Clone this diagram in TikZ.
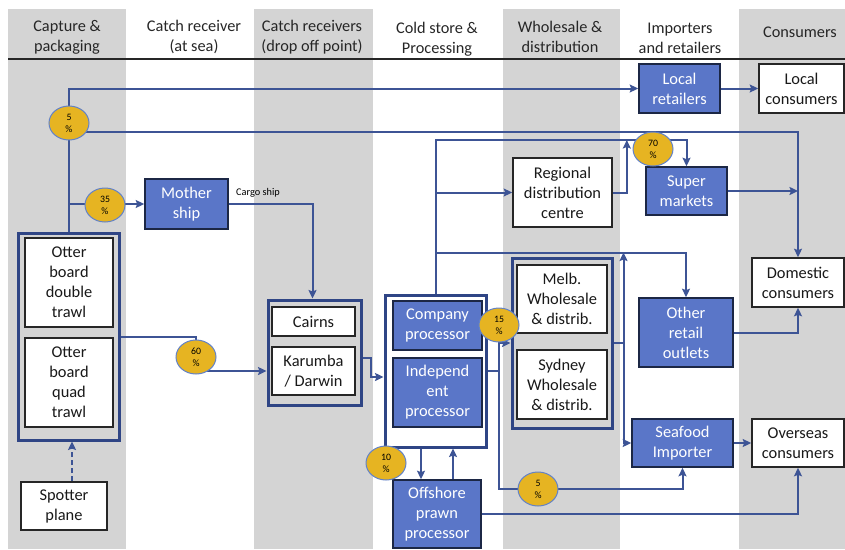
\documentclass[tikz,border=0pt]{standalone}
\usepackage{fontspec}
\setmainfont{Carlito}
\usetikzlibrary{arrows.meta,shapes.geometric}
\definecolor{band}{HTML}{D4D4D4}
\definecolor{boxblue}{HTML}{5A76C8}
\definecolor{boxedge}{HTML}{1C2745}
\definecolor{conncol}{HTML}{3D5495}
\definecolor{grpcol}{HTML}{2F4585}
\definecolor{gold}{HTML}{E6B422}
\definecolor{goldedge}{HTML}{6282C8}
\pgfdeclarelayer{bands}\pgfdeclarelayer{lines}
\pgfsetlayers{bands,lines,main}
\begin{document}
\begin{tikzpicture}[x=1pt,y=-1pt,
  txt/.style={font=\fontsize{16.4}{20}\selectfont, align=center, inner sep=0pt},
  bbox/.style={txt, draw=boxedge, line width=1.6pt, fill=boxblue, text=white},
  wbox/.style={txt, draw=black!85, line width=1.6pt, fill=white, text=black!90},
  grp/.style={draw=grpcol, line width=3pt, inner sep=0pt},
  pct/.style={ellipse, draw=goldedge, line width=1pt, fill=gold, minimum width=40pt, minimum height=34pt, inner sep=0pt, align=center, font=\fontsize{9.8}{12}\selectfont},
  conn/.style={draw=conncol, line width=2pt},
  arr/.style={conn, -{Stealth[length=8.5pt,width=8pt,inset=1.5pt]}},
  head/.style={font=\fontsize{16.3}{20}\selectfont, align=center, text=black!85, inner sep=0pt},
  wh/.style n args={2}{minimum width=#1pt, minimum height=#2pt}
]
\useasboundingbox (0,0) rectangle (845,549);
\begin{pgfonlayer}{bands}
\fill[band] (8,9) rectangle (126,549);
\fill[band] (254,9) rectangle (373,549);
\fill[band] (503,9) rectangle (620,549);
\fill[band] (739,9) rectangle (845,549);
\draw[line width=1.2pt, black!85] (8,59) -- (845,59);
\end{pgfonlayer}

% headers
\node[head] (h1) at (67,37) {Capture \&\\packaging};
\node[head] (h2) at (194,37) {Catch receiver\\(at sea)};
\node[head] (h3) at (312,37) {Catch receivers\\(drop off point)};
\node[head] (h4) at (437,39) {Cold store \&\\Processing};
\node[head] (h5) at (560,37) {Wholesale \&\\distribution};
\node[head] (h6) at (680,38) {Importers\\and retailers};
\node[head] (h7) at (800,32) {Consumers};

% group boxes
\node[grp, wh={101}{207}] (ottergrp) at (68.5,336.5) {};
\node[grp, wh={93}{105}] (portgrp) at (314.5,352.5) {};
\node[grp, wh={101}{152}] (procgrp) at (435.5,371) {};
\node[grp, wh={100}{170}] (wholegrp) at (562,343) {};

% boxes
\node[bbox, wh={81}{49}] (locret) at (679.5,88.5) {Local\\retailers};
\node[wbox, wh={85}{49}] (loccons) at (801.5,88.5) {Local\\consumers};
\node[bbox, wh={83}{50}] (mother) at (186.5,204) {Mother\\ship};
\node[wbox, wh={88}{89}] (otter1) at (69,282.5) {Otter\\board\\double\\trawl};
\node[wbox, wh={88}{89}] (otter2) at (69,382.5) {Otter\\board\\quad\\trawl};
\node[wbox, wh={86}{48}] (spotter) at (64,506) {Spotter\\plane};
\node[wbox, wh={83}{29}] (cairns) at (313.5,321.5) {Cairns};
\node[wbox, wh={83}{48}] (karumba) at (313.5,371) {Karumba\\/ Darwin};
\node[bbox, wh={89}{49}] (company) at (437.5,325.5) {Company\\processor};
\node[bbox, wh={89}{69}] (indep) at (437.5,392.5) {Independ\\ent\\processor};
\node[bbox, wh={88}{68}] (offshore) at (437,514) {Offshore\\prawn\\processor};
\node[wbox, wh={99}{69}] (rdc) at (562.5,192.5) {Regional\\distribution\\centre};
\node[bbox, wh={81}{48}] (super) at (686.5,191) {Super\\markets};
\node[wbox, wh={90}{68}] (melb) at (562,299) {Melb.\\Wholesale\\\& distrib.};
\node[wbox, wh={90}{69}] (sydney) at (562,384.5) {Sydney\\Wholesale\\\& distrib.};
\node[bbox, wh={94}{69}] (other) at (686,332.5) {Other\\retail\\outlets};
\node[bbox, wh={101}{48}] (seafood) at (682.5,443) {Seafood\\Importer};
\node[wbox, wh={92}{49}] (domestic) at (798,282.5) {Domestic\\consumers};
\node[wbox, wh={92}{48}] (overseas) at (798,443) {Overseas\\consumers};

% percentages
\node[pct] (e5a) at (69,123) {5\\\%};
\node[pct] (e35) at (105,205) {35\\\%};
\node[pct] (e60) at (196,357) {60\\\%};
\node[pct] (e70) at (653,149) {70\\\%};
\node[pct] (e15) at (499,325) {15\\\%};
\node[pct] (e10) at (386,463) {10\\\%};
\node[pct] (e5b) at (538,489) {5\\\%};

\node[font=\fontsize{10.3}{12}\selectfont, anchor=west, inner sep=0pt] (cargo) at (236,193) {Cargo ship};

\coordinate (ytop) at ([yshift=9pt]e70.center);

\begin{pgfonlayer}{lines}
\draw[arr] (ottergrp.north) -- (ottergrp.north |- locret.west) -- (locret.west);
\draw[arr] ([yshift=-9pt]e5a.center) -| (domestic.north);
\draw[arr] (mother.west -| ottergrp.north) -- (mother.west);
\draw[arr] (mother.east) -| ([xshift=-2pt]portgrp.north);
\draw[conn] (ottergrp.east) -| (e60.center);
\draw[arr] (e60.center |- karumba.west) -- (portgrp.west |- karumba.west);
\draw[arr] ([yshift=-5.5pt]portgrp.east) -| ([xshift=-13pt,yshift=-6pt]procgrp.west) -- ([yshift=-6pt]procgrp.west);
\draw[arr] ([xshift=-14.5pt]procgrp.south) -- ([xshift=-14.5pt]procgrp.south |- offshore.north);
\draw[arr] ([xshift=16pt]offshore.north) -- ([xshift=16pt]offshore.north |- procgrp.south);
\draw[arr] (offshore.east) -| (overseas.south);
\draw[arr] (procgrp.north) |- (ytop -| super.north) -- (super.north);
\draw[arr] (procgrp.north |- rdc.west) -- (rdc.west);
\draw[arr] (rdc.east) -| ([xshift=14pt]rdc.east |- ytop);
\draw[arr] ([yshift=4pt]wholegrp.north -| procgrp.north) -| (other.north);
\draw[arr] (wholegrp.east) -| ([xshift=10pt,yshift=4pt]wholegrp.north east);
\draw[arr] (wholegrp.east) -| ([xshift=10pt]wholegrp.east |- seafood.west) -- (seafood.west);
\draw[arr] (super.east) -- (super.east -| domestic.north);
\draw[arr] (other.east) -| (domestic.south);
\draw[arr] (seafood.east) -- (overseas.west);
\draw[arr] (locret.east) -- (loccons.west);
\draw[conn] (procgrp.east) -- (procgrp.east -| e15.center);
\draw[conn] (e15.center) -- (e15.center |- e5b.center) -- (e5b.center);
\draw[arr] (e15.center |- wholegrp.west) -- (wholegrp.west);
\draw[arr] (e5b.center) -| (seafood.south);
\draw[arr, dash pattern=on 5pt off 3pt] ([xshift=8pt]spotter.north) -- ([xshift=8pt]spotter.north |- ottergrp.south);
\end{pgfonlayer}
\end{tikzpicture}
\end{document}
